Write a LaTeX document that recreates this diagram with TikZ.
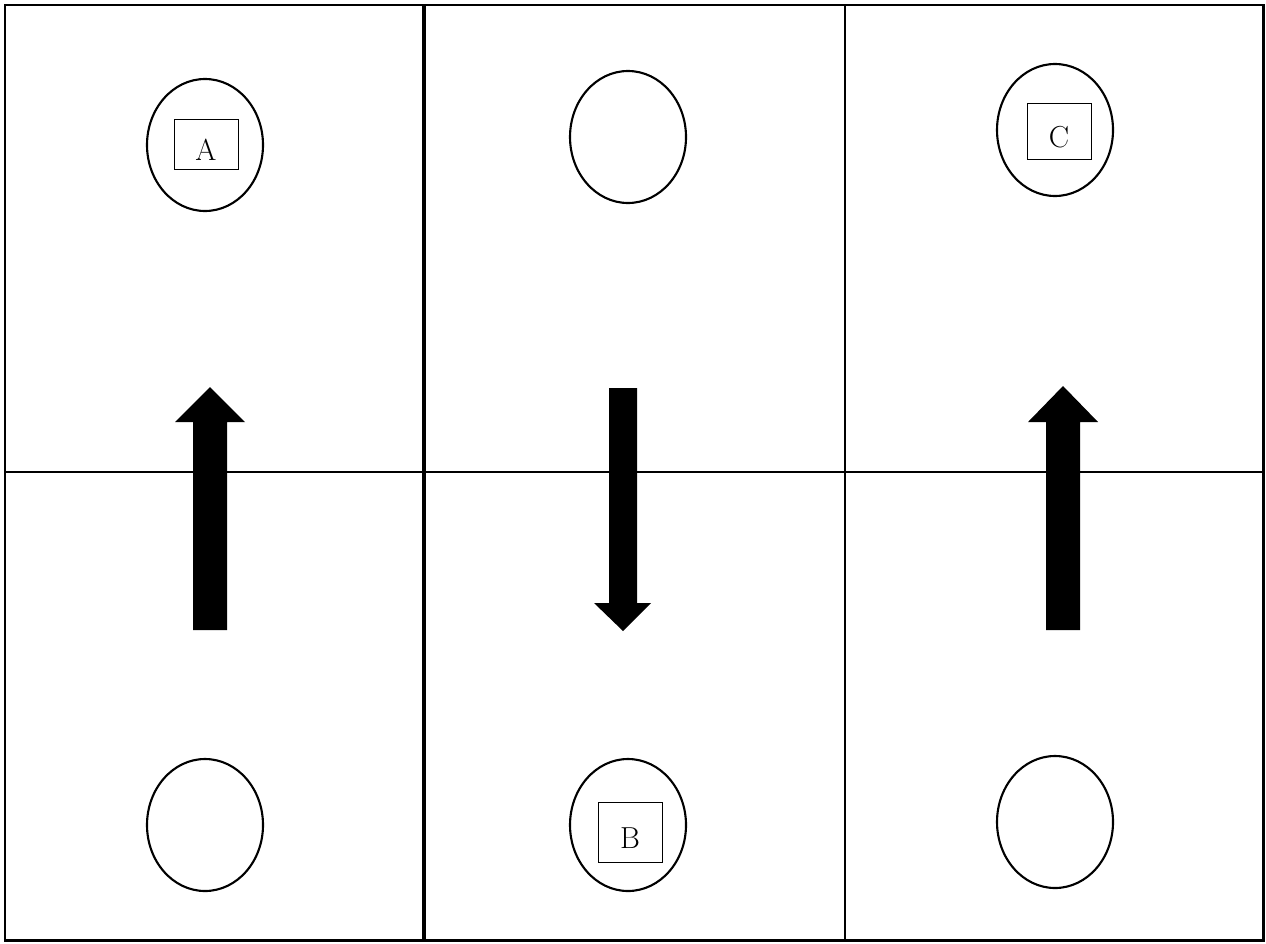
\documentclass[tikz,border=0pt]{standalone}
\usetikzlibrary{shapes.geometric}
\begin{document}
\begin{tikzpicture}[x=0.02cm,y=-0.02cm,
  oval/.style={draw,ellipse,line width=1.2pt,minimum width=116*0.02cm,minimum height=132*0.02cm,inner sep=0pt},
  label box/.style={draw,line width=0.5pt,minimum width=64*0.02cm,minimum height=52*0.02cm,inner sep=0pt,font=\LARGE,text height=18.5pt,text depth=0pt},
  bigarrow/.style={fill=black}]
\useasboundingbox (0,0) rectangle (1266,943);
% frame
\draw[line width=1.7pt] (5,5) rectangle (1263,940);
\draw[line width=2.3pt] (424,5) -- (424,940);
\draw[line width=1.1pt] (845,5) -- (845,940);
\draw[line width=0.8pt] (5,472) -- (1263,472);
% ovals
\node[oval] (tl) at (205,145) {};
\node[oval] (tm) at (628,137) {};
\node[oval] (tr) at (1055,130) {};
\node[oval] (bl) at (205,825) {};
\node[oval] (bm) at (628,825) {};
\node[oval] (br) at (1055,822) {};
% boxes
\node[label box,minimum height=50*0.02cm] (A) at (206,144) {A};
\node[label box,minimum height=60*0.02cm] (B) at (630,832) {B};
\node[label box,minimum height=56*0.02cm] (C) at (1059,131) {C};
% arrows
\fill[bigarrow] (193,630) -- (193,422) -- (175,422) -- (210,387) -- (245,422) -- (227,422) -- (227,630) -- cycle;
\fill[bigarrow] (609,388) -- (609,603) -- (594,603) -- (623,631) -- (651,603) -- (637,603) -- (637,388) -- cycle;
\fill[bigarrow] (1046,630) -- (1046,422) -- (1028,422) -- (1063,386) -- (1098,422) -- (1080,422) -- (1080,630) -- cycle;
\end{tikzpicture}
\end{document}
